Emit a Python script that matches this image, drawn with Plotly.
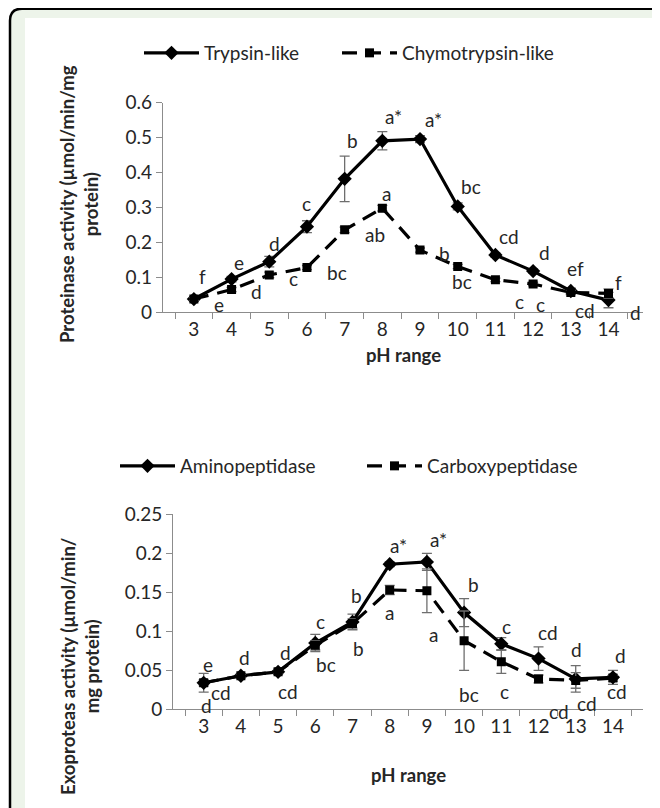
import plotly.graph_objects as go

# screenshot is 660x808; the page body adds an 8px margin, so the figure is 652x800
SW, SH = 660, 808
OFF = 8
W, H = SW - OFF, SH - OFF

ph = ["3", "4", "5", "6", "7", "8", "9", "10", "11", "12", "13", "14"]

trypsin = [0.038, 0.095, 0.145, 0.245, 0.382, 0.491, 0.496, 0.303, 0.164, 0.118, 0.061, 0.035]
trypsin_err = [0.005, 0.008, 0.015, 0.017, 0.065, 0.026, 0.010, 0.010, 0.006, 0.006, 0.008, 0.022]
trypsin_lbl = ["f", "e", "d", "c", "b", "a*", "a*", "bc", "cd", "d", "ef", "f"]

chymo = [0.038, 0.065, 0.107, 0.128, 0.236, 0.298, 0.178, 0.131, 0.093, 0.081, 0.057, 0.054]
chymo_err = [0.004, 0.006, 0.008, 0.006, 0.008, 0.008, 0.006, 0.006, 0.005, 0.005, 0.006, 0.013]
chymo_lbl = ["e", "d", "c", "bc", "ab", "a", "b", "bc", "c", "c", "cd", "d"]

amino = [0.034, 0.043, 0.048, 0.085, 0.112, 0.186, 0.189, 0.124, 0.084, 0.065, 0.039, 0.041]
amino_err = [0.012, 0.002, 0.003, 0.011, 0.010, 0.003, 0.011, 0.018, 0.008, 0.015, 0.017, 0.009]
amino_lbl = ["e", "d", "d", "c", "b", "a*", "a*", "b", "c", "cd", "d", "d"]

carboxy = [0.034, 0.043, 0.048, 0.082, 0.110, 0.153, 0.152, 0.088, 0.061, 0.039, 0.037, 0.040]
carboxy_err = [0.004, 0.002, 0.003, 0.006, 0.006, 0.006, 0.028, 0.038, 0.015, 0.005, 0.010, 0.004]
carboxy_lbl = ["d", "cd", "cd", "bc", "b", "a", "a", "bc", "c", "cd", "cd", "cd"]

# label pixel offsets (dx right, dy down) relative to each point
trypsin_off = [(9, -23), (7, -17), (5, -18), (0, -23), (8, -38), (11, -24), (13, -20),
               (13, -20), (14, -19), (11, -19), (5, -22), (10, -18)]
chymo_off = [(25, 5), (25, 2), (24, 4), (30, 5), (30, 5), (4, -15), (24, 3),
             (4, 15), (24, 22), (7, 20), (14, 18), (27, 19)]
amino_off = [(4, -18), (4, -18), (7, -19), (5, -22), (4, -26), (9, -19), (12, -22),
             (9, -28), (5, -17), (9, -26), (1, -29), (8, -22)]
carboxy_off = [(3, 23), (-20, 17), (10, 20), (11, 19), (6, 25), (0, 23), (7, 44),
               (5, 54), (3, 30), (20, 33), (11, 23), (4, 13)]

FONT = "Lato"
FS = 19
TXT = "#262626"
AX = "#8c8c8c"
ERR = "#6e6e6e"


def px(x):
    # screenshot x pixel -> paper fraction
    return (x - OFF) / W


def py(y):
    # screenshot y pixel -> paper fraction
    return 1 - (y - OFF) / H


fig = go.Figure()


def add_series(x, y, err, name, dash, symbol, msize, xa, ya, legend):
    fig.add_trace(go.Scatter(
        x=x, y=y, name=name, mode="lines+markers",
        line=dict(color="black", width=3.2, dash=dash),
        marker=dict(symbol=symbol, size=msize, color="black"),
        error_y=dict(type="data", array=err, color=ERR, thickness=1.3, width=5),
        xaxis=xa, yaxis=ya, legend=legend,
    ))


add_series(ph, trypsin, trypsin_err, "Trypsin-like", "solid", "diamond", 11, "x", "y", "legend")
add_series(ph, chymo, chymo_err, "Chymotrypsin-like", "15px,9px", "square", 9, "x", "y", "legend")
add_series(ph, amino, amino_err, "Aminopeptidase", "solid", "diamond", 11, "x2", "y2", "legend2")
add_series(ph, carboxy, carboxy_err, "Carboxypeptidase", "15px,9px", "square", 9, "x2", "y2", "legend2")

# empty, invisible spacer entry so the last top legend label is not clipped
fig.add_trace(go.Scatter(x=[None], y=[None], name=" ", mode="markers",
                         marker=dict(color="rgba(0,0,0,0)", size=1,
                                     line=dict(width=0, color="rgba(0,0,0,0)")),
                         xaxis="x", yaxis="y", legend="legend", hoverinfo="skip"))

ann = []


def add_labels(vals, lbls, offs, xr, yr):
    # category axes: annotation x is the category index
    for i, (yv, t, (dx, dy)) in enumerate(zip(vals, lbls, offs)):
        ann.append(dict(x=i, y=yv, xref=xr, yref=yr, text=t, showarrow=False,
                        xshift=dx, yshift=-dy, font=dict(family=FONT, size=FS, color=TXT)))


add_labels(trypsin, trypsin_lbl, trypsin_off, "x", "y")
add_labels(chymo, chymo_lbl, chymo_off, "x", "y")
add_labels(amino, amino_lbl, amino_off, "x2", "y2")
add_labels(carboxy, carboxy_lbl, carboxy_off, "x2", "y2")

# axis titles
title_font = dict(family=FONT, size=18.5, color=TXT)
ann.append(dict(x=px(79), y=py(204), xref="paper", yref="paper", showarrow=False, textangle=-90,
                xanchor="center", yanchor="middle",
                text="<b>Proteinase activity (µmol/min/mg<br>protein)</b>", font=title_font))
ann.append(dict(x=px(80), y=py(666), xref="paper", yref="paper", showarrow=False, textangle=-90,
                xanchor="center", yanchor="middle",
                text="<b>Exoproteas activity (µmol/min/<br>mg protein)</b>", font=title_font))
ann.append(dict(x=px(403), y=py(355), xref="paper", yref="paper", showarrow=False,
                xanchor="center", yanchor="middle", text="<b>pH range</b>", font=title_font))
ann.append(dict(x=px(408), y=py(775), xref="paper", yref="paper", showarrow=False,
                xanchor="center", yanchor="middle", text="<b>pH range</b>", font=title_font))

# frame
r = 12
frame_path = (f"M {px(10)},{py(812)} L {px(10)},{py(8.7 + r)} "
              f"Q {px(10)},{py(8.7)} {px(10 + r)},{py(8.7)} L {px(670)},{py(8.7)} "
              f"L {px(670)},{py(812)} Z")
shapes = [
    dict(type="path", path=frame_path, xref="paper", yref="paper",
         fillcolor="#edf4ea", line=dict(color="black", width=2.5), layer="below"),
    dict(type="rect", x0=px(25), x1=px(670), y0=py(812), y1=py(18), xref="paper", yref="paper",
         fillcolor="white", line=dict(width=0), layer="below"),
]

xcommon = dict(type="category", tickson="boundaries", ticks="outside", ticklen=6, tickcolor=AX,
               showline=True, linecolor=AX, linewidth=1.2, showgrid=False, zeroline=False,
               tickangle=0, tickfont=dict(family=FONT, size=FS, color=TXT))
ycommon = dict(ticks="outside", ticklen=6, tickcolor=AX, showline=True, linecolor=AX, linewidth=1.2,
               showgrid=False, zeroline=False, tickfont=dict(family=FONT, size=FS, color=TXT))

fig.update_layout(
    width=W, height=H, margin=dict(l=0, r=0, t=0, b=0, autoexpand=False),
    paper_bgcolor="white", plot_bgcolor="rgba(0,0,0,0)",
    showlegend=True,
    xaxis=dict(domain=[px(163), px(643)], anchor="y", **xcommon),
    yaxis=dict(domain=[py(312.3), py(102.7)], anchor="x", range=[0, 0.6], dtick=0.1, **ycommon),
    xaxis2=dict(domain=[px(173.3), px(643.3)], anchor="y2", **xcommon),
    yaxis2=dict(domain=[py(709.3), py(514.3)], anchor="x2", range=[0, 0.25], dtick=0.05, **ycommon),
    legend=dict(x=px(139), y=py(53), xanchor="left", yanchor="middle", orientation="h",
                bgcolor="rgba(0,0,0,0)", font=dict(family=FONT, size=FS, color=TXT),
                itemwidth=55, entrywidth=128),
    legend2=dict(x=px(115), y=py(466), xanchor="left", yanchor="middle", orientation="h",
                 bgcolor="rgba(0,0,0,0)", font=dict(family=FONT, size=FS, color=TXT),
                 itemwidth=55, entrywidth=177),
    annotations=ann,
    shapes=shapes,
)

fig.write_html("out.html")
